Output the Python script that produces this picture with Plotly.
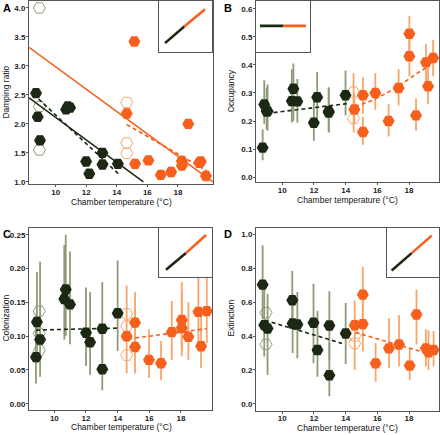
import plotly.graph_objects as go

# ---------------- data ----------------
# Panel A: damping ratio
A_dark_T = [8.71, 8.82, 8.97, 10.68, 10.79, 10.94, 11.99, 12.20, 13.06, 13.06, 14.07]
A_dark_v = [2.53, 2.12, 1.715, 2.25, 2.30, 2.28, 1.35, 1.14, 1.50, 1.30, 1.31]
A_dark_open_T = [8.93, 8.93, 8.93]
A_dark_open_v = [4.0, 2.30, 1.55]
A_or_T = [14.65, 15.15, 15.20, 16.07, 16.88, 17.56, 18.26, 18.26, 18.68, 19.40, 19.50, 19.84]
A_or_v = [2.18, 3.42, 1.31, 1.37, 1.12, 1.17, 1.36, 1.28, 2.00, 1.33, 1.35, 1.10]
A_or_open_T = [14.65, 14.65, 14.65]
A_or_open_v = [2.37, 1.67, 1.49]
A_dark_fit_T, A_dark_fit_v = [8.25, 15.74], [2.45, 1.0]
A_dark_fit2_T, A_dark_fit2_v = [8.55, 14.1], [2.51, 1.14]
A_or_fit_T, A_or_fit_v = [8.25, 20.29], [3.32, 1.0]
A_or_fit2_T, A_or_fit2_v = [14.65, 19.9], [1.99, 1.19]

# Panel B: occupancy
B_dark_T = [8.76, 8.86, 9.01, 9.07, 10.70, 10.60, 10.95, 11.99, 12.20, 12.93, 12.93, 13.99]
B_dark_v = [0.105, 0.259, 0.235, 0.235, 0.315, 0.271, 0.270, 0.194, 0.285, 0.235, 0.230, 0.292]
B_dark_lo = [0.06, 0.19, 0.17, 0.165, 0.20, 0.195, 0.195, 0.13, 0.21, 0.16, 0.16, 0.22]
B_dark_hi = [0.17, 0.345, 0.32, 0.33, 0.405, 0.385, 0.35, 0.275, 0.375, 0.32, 0.32, 0.38]
B_or_T = [14.55, 15.09, 15.09, 15.87, 16.71, 17.34, 18.02, 18.02, 18.44, 19.07, 19.20, 19.52]
B_or_v = [0.241, 0.292, 0.161, 0.300, 0.200, 0.318, 0.511, 0.431, 0.220, 0.409, 0.324, 0.425]
B_or_lo = [0.19, 0.225, 0.115, 0.24, 0.145, 0.255, 0.43, 0.36, 0.165, 0.34, 0.26, 0.36]
B_or_hi = [0.30, 0.355, 0.215, 0.37, 0.26, 0.385, 0.575, 0.50, 0.28, 0.475, 0.39, 0.49]
B_or_open_T = [14.5, 14.5]
B_or_open_v = [0.303, 0.209]
B_or_open_lo = [0.24, 0.16]
B_or_open_hi = [0.37, 0.27]
B_dark_fit_T, B_dark_fit_v = [9.01, 14.07], [0.227, 0.262]
B_or_fit_T = [14.6, 15.5, 16.5, 17.5, 18.5, 19.3]
B_or_fit_v = [0.251, 0.270, 0.297, 0.330, 0.370, 0.398]

# Panel C: colonization
C_dark_T = [8.84, 8.9, 9.1, 10.72, 10.63, 10.99, 12.0, 12.26, 13.03, 13.03, 14.0]
C_dark_v = [0.069, 0.121, 0.095, 0.169, 0.155, 0.147, 0.105, 0.091, 0.111, 0.051, 0.134]
C_dark_lo = [0.03, 0.06, 0.04, 0.10, 0.095, 0.088, 0.056, 0.043, 0.05, 0.02, 0.078]
C_dark_hi = [0.13, 0.195, 0.21, 0.25, 0.235, 0.225, 0.172, 0.165, 0.18, 0.11, 0.212]
C_dark_open_T = [9.05, 9.05, 9.05]
C_dark_open_v = [0.137, 0.104, 0.079]
C_or_T = [14.57, 15.1, 15.1, 15.98, 16.74, 17.42, 18.05, 18.05, 18.47, 19.1, 19.27, 19.63]
C_or_v = [0.100, 0.120, 0.084, 0.065, 0.060, 0.106, 0.124, 0.112, 0.099, 0.136, 0.085, 0.137]
C_or_lo = [0.045, 0.07, 0.045, 0.038, 0.035, 0.065, 0.08, 0.07, 0.065, 0.085, 0.053, 0.09]
C_or_hi = [0.175, 0.165, 0.14, 0.11, 0.093, 0.152, 0.18, 0.165, 0.15, 0.20, 0.13, 0.20]
C_or_open_T = [14.57, 14.57, 14.57]
C_or_open_v = [0.133, 0.115, 0.072]
C_dark_fit_T, C_dark_fit_v = [8.84, 14.08], [0.109, 0.112]
C_or_fit_T, C_or_fit_v = [14.67, 19.62], [0.096, 0.111]

# Panel D: extinction
D_dark_T = [8.76, 8.86, 9.07, 10.63, 10.65, 10.95, 11.97, 12.22, 12.97, 12.97, 14.0]
D_dark_v = [0.704, 0.465, 0.445, 0.612, 0.475, 0.469, 0.479, 0.318, 0.463, 0.169, 0.416]
D_dark_lo = [0.50, 0.28, 0.17, 0.47, 0.30, 0.27, 0.24, 0.16, 0.26, 0.045, 0.235]
D_dark_hi = [0.935, 0.70, 0.65, 0.785, 0.65, 0.66, 0.71, 0.55, 0.665, 0.36, 0.595]
D_dark_open_T = [8.97, 8.97]
D_dark_open_v = [0.539, 0.351]
D_or_T = [14.57, 15.08, 15.08, 15.89, 16.73, 17.37, 18.04, 18.47, 19.06, 19.23, 19.55]
D_or_v = [0.465, 0.645, 0.471, 0.239, 0.328, 0.351, 0.226, 0.528, 0.328, 0.304, 0.318]
D_or_lo = [0.20, 0.47, 0.31, 0.13, 0.21, 0.22, 0.14, 0.35, 0.22, 0.20, 0.22]
D_or_hi = [0.61, 0.81, 0.65, 0.36, 0.505, 0.525, 0.325, 0.675, 0.44, 0.435, 0.43]
D_or_open_T = [14.57, 14.57]
D_or_open_v = [0.402, 0.357]
D_dark_fit_T, D_dark_fit_v = [8.9, 13.77], [0.494, 0.357]
D_or_fit_T, D_or_fit_v = [14.6, 19.17], [0.422, 0.298]

# inset schematics (start, colour change, end) in inset unit coordinates
inset_A = [[0.113, 0.477, 0.868], [0.17, 0.496, 0.837]]
inset_B = [[0.074, 0.506, 0.926], [0.51, 0.51, 0.51]]
inset_C = [[0.132, 0.509, 0.887], [0.143, 0.484, 0.857]]
inset_D = [[0.09, 0.475, 0.86], [0.129, 0.484, 0.843]]

x_ticks = [10, 12, 14, 16, 18]
y_ticks_A = [1.0, 1.5, 2.0, 2.5, 3.0, 3.5, 4.0]
y_ticks_B = [0.0, 0.1, 0.2, 0.3, 0.4, 0.5, 0.6]
y_ticks_C = [0.00, 0.05, 0.10, 0.15, 0.20, 0.25]
y_ticks_D = [0.0, 0.2, 0.4, 0.6, 0.8, 1.0]

# ---------------- styles ----------------
DARK = "#1b2814"
ORANGE = "#f65f1c"
OLIVE_BAR = "#8e9b78"
ORANGE_BAR = "#f8a56a"
AXC = "#555555"
FONT = "Liberation Sans"
W, H = 440, 435
DASH = "4px,3px"

fig = go.Figure()


def px2dom(a, b, total, flip=False):
    if flip:
        return [1 - b / total, 1 - a / total]
    return [a / total, b / total]


def bars(T, v, lo, hi, color, ax):
    fig.add_trace(go.Scatter(
        x=T, y=v, mode="markers", xaxis=ax[0], yaxis=ax[1],
        marker=dict(size=2, opacity=0, color=color),
        error_y=dict(type="data", symmetric=False,
                     array=[h - m for h, m in zip(hi, v)],
                     arrayminus=[m - l for m, l in zip(v, lo)],
                     color=color, thickness=1.8, width=0),
        showlegend=False, hoverinfo="skip"))


def pts(T, v, color, ax, open_=False):
    if open_:
        marker = dict(symbol="hexagon2-open", size=12, color=color, line=dict(width=1, color=color))
    else:
        marker = dict(symbol="hexagon2", size=12, color=color, line=dict(width=0))
    fig.add_trace(go.Scatter(x=T, y=v, mode="markers", xaxis=ax[0], yaxis=ax[1],
                             marker=marker, showlegend=False, cliponaxis=False))


def fit(T, v, color, ax, dash=DASH):
    fig.add_trace(go.Scatter(x=T, y=v, mode="lines", xaxis=ax[0], yaxis=ax[1],
                             line=dict(color=color, width=1.6, dash=dash),
                             showlegend=False, hoverinfo="skip"))


axA, axB, axC, axD = ("x", "y"), ("x2", "y2"), ("x3", "y3"), ("x4", "y4")

# Panel A
pts(A_dark_open_T, A_dark_open_v, OLIVE_BAR, axA, open_=True)
pts(A_or_open_T, A_or_open_v, ORANGE_BAR, axA, open_=True)
pts(A_dark_T, A_dark_v, DARK, axA)
pts(A_or_T, A_or_v, ORANGE, axA)
fit(A_dark_fit_T, A_dark_fit_v, DARK, axA, dash="solid")
fit(A_dark_fit2_T, A_dark_fit2_v, DARK, axA)
fit(A_or_fit_T, A_or_fit_v, ORANGE, axA, dash="solid")
fit(A_or_fit2_T, A_or_fit2_v, ORANGE, axA)

# Panel B
bars(B_dark_T, B_dark_v, B_dark_lo, B_dark_hi, OLIVE_BAR, axB)
bars(B_or_T, B_or_v, B_or_lo, B_or_hi, ORANGE_BAR, axB)
bars(B_or_open_T, B_or_open_v, B_or_open_lo, B_or_open_hi, ORANGE_BAR, axB)
pts(B_or_open_T, B_or_open_v, ORANGE_BAR, axB, open_=True)
pts(B_dark_T, B_dark_v, DARK, axB)
pts(B_or_T, B_or_v, ORANGE, axB)
fit(B_dark_fit_T, B_dark_fit_v, DARK, axB)
fit(B_or_fit_T, B_or_fit_v, ORANGE, axB)

# Panel C
bars(C_dark_T, C_dark_v, C_dark_lo, C_dark_hi, OLIVE_BAR, axC)
bars(C_or_T, C_or_v, C_or_lo, C_or_hi, ORANGE_BAR, axC)
pts(C_dark_open_T, C_dark_open_v, OLIVE_BAR, axC, open_=True)
pts(C_or_open_T, C_or_open_v, ORANGE_BAR, axC, open_=True)
pts(C_dark_T, C_dark_v, DARK, axC)
pts(C_or_T, C_or_v, ORANGE, axC)
fit(C_dark_fit_T, C_dark_fit_v, DARK, axC)
fit(C_or_fit_T, C_or_fit_v, ORANGE, axC)

# Panel D
bars(D_dark_T, D_dark_v, D_dark_lo, D_dark_hi, OLIVE_BAR, axD)
bars(D_or_T, D_or_v, D_or_lo, D_or_hi, ORANGE_BAR, axD)
pts(D_dark_open_T, D_dark_open_v, OLIVE_BAR, axD, open_=True)
pts(D_or_open_T, D_or_open_v, ORANGE_BAR, axD, open_=True)
pts(D_dark_T, D_dark_v, DARK, axD)
pts(D_or_T, D_or_v, ORANGE, axD)
fit(D_dark_fit_T, D_dark_fit_v, DARK, axD)
fit(D_or_fit_T, D_or_fit_v, ORANGE, axD)

# insets
inset_axes = [("x5", "y5", inset_A), ("x6", "y6", inset_B), ("x7", "y7", inset_C), ("x8", "y8", inset_D)]
for xa, ya, sch in inset_axes:
    fig.add_trace(go.Scatter(x=[0, 1, 1, 0, 0], y=[0, 0, 1, 1, 0], fill="toself",
                             fillcolor="white", line=dict(width=0), mode="lines",
                             xaxis=xa, yaxis=ya, showlegend=False, hoverinfo="skip"))
    xs, ys = sch
    fig.add_trace(go.Scatter(x=xs[:2], y=ys[:2], mode="lines", xaxis=xa, yaxis=ya,
                             line=dict(color=DARK, width=2.6), showlegend=False, hoverinfo="skip"))
    fig.add_trace(go.Scatter(x=xs[1:], y=ys[1:], mode="lines", xaxis=xa, yaxis=ya,
                             line=dict(color=ORANGE, width=2.6), showlegend=False, hoverinfo="skip"))

tickfont = dict(family=FONT, size=8, color="#222222", weight="bold")
common_x = dict(tickvals=x_ticks, ticks="outside", ticklen=2, tickcolor=AXC, showline=True,
                linecolor=AXC, linewidth=1, mirror=True, showgrid=False, zeroline=False,
                tickfont=tickfont, ticklabelstandoff=-2)
common_y = dict(ticks="outside", ticklen=2, tickcolor=AXC, showline=True, linecolor=AXC,
                linewidth=1, mirror=True, showgrid=False, zeroline=False, tickfont=tickfont,
                ticklabelstandoff=-1)

layout = dict(
    width=W, height=H, autosize=False, margin=dict(l=0, r=0, t=0, b=0),
    paper_bgcolor="white", plot_bgcolor="white", showlegend=False,
    xaxis=dict(domain=px2dom(29, 213, W), range=[8.25, 20.3], anchor="y", **common_x),
    yaxis=dict(domain=px2dom(1, 185, H, True), range=[0.96, 4.12], anchor="x",
               tickvals=y_ticks_A, tickformat=".1f", **common_y),
    xaxis2=dict(domain=px2dom(256, 439, W), range=[8.34, 19.89], anchor="y2", **common_x),
    yaxis2=dict(domain=px2dom(1, 183, H, True), range=[-0.018, 0.628], anchor="x2",
                tickvals=y_ticks_B, tickformat=".1f", **common_y),
    xaxis3=dict(domain=px2dom(29, 212, W), range=[8.40, 19.96], anchor="y3", **common_x),
    yaxis3=dict(domain=px2dom(229, 412, H, True), range=[-0.0093, 0.26], anchor="x3",
                tickvals=y_ticks_C, tickformat=".2f", **common_y),
    xaxis4=dict(domain=px2dom(256, 439, W), range=[8.34, 19.89], anchor="y4", **common_x),
    yaxis4=dict(domain=px2dom(229, 412.7, H, True), range=[-0.041, 1.039], anchor="x4",
                tickvals=y_ticks_D, tickformat=".1f", **common_y),
)
inset_boxes = [(159, 212, 1, 52), (256, 310, 1, 52), (159, 212, 229, 278), (387, 439, 229, 278)]
for i, (x0, x1, y0, y1) in enumerate(inset_boxes):
    n = i + 5
    layout[f"xaxis{n}"] = dict(domain=px2dom(x0, x1, W), range=[0, 1], anchor=f"y{n}",
                               showline=True, mirror=True, linecolor=AXC, linewidth=1,
                               showticklabels=False, ticks="", showgrid=False, zeroline=False)
    layout[f"yaxis{n}"] = dict(domain=px2dom(y0, y1, H, True), range=[0, 1], anchor=f"x{n}",
                               showline=True, mirror=True, linecolor=AXC, linewidth=1,
                               showticklabels=False, ticks="", showgrid=False, zeroline=False)
fig.update_layout(**layout)

title_font = dict(family=FONT, size=8.5, color="#111111")
ann = []
for (cx, cy) in [(121, 203), (347, 201), (121, 429), (347, 430)]:
    ann.append(dict(text="Chamber temperature (°C)", x=cx / W, y=1 - cy / H, xref="paper", yref="paper",
                    showarrow=False, font=title_font, xanchor="center", yanchor="middle"))
for (txt, cx, cy) in [("Damping ratio", 6, 93), ("Occupancy", 231, 92),
                      ("Colonization", 6, 320), ("Extinction", 231, 320)]:
    ann.append(dict(text=txt, x=cx / W, y=1 - cy / H, xref="paper", yref="paper", textangle=-90,
                    showarrow=False, font=title_font, xanchor="center", yanchor="middle"))
for (txt, cx, cy) in [("A", 1, 0), ("B", 222, 0), ("C", 1, 227), ("D", 222, 227)]:
    ann.append(dict(text=f"<b>{txt}</b>", x=cx / W, y=1 - cy / H, xref="paper", yref="paper",
                    showarrow=False, font=dict(family=FONT, size=11, color="#000000"),
                    xanchor="left", yanchor="top"))
fig.update_layout(annotations=ann)

fig.write_html("out.html", config={"displayModeBar": False},
               post_script="document.body.style.margin='0';document.body.style.overflow='hidden';")
